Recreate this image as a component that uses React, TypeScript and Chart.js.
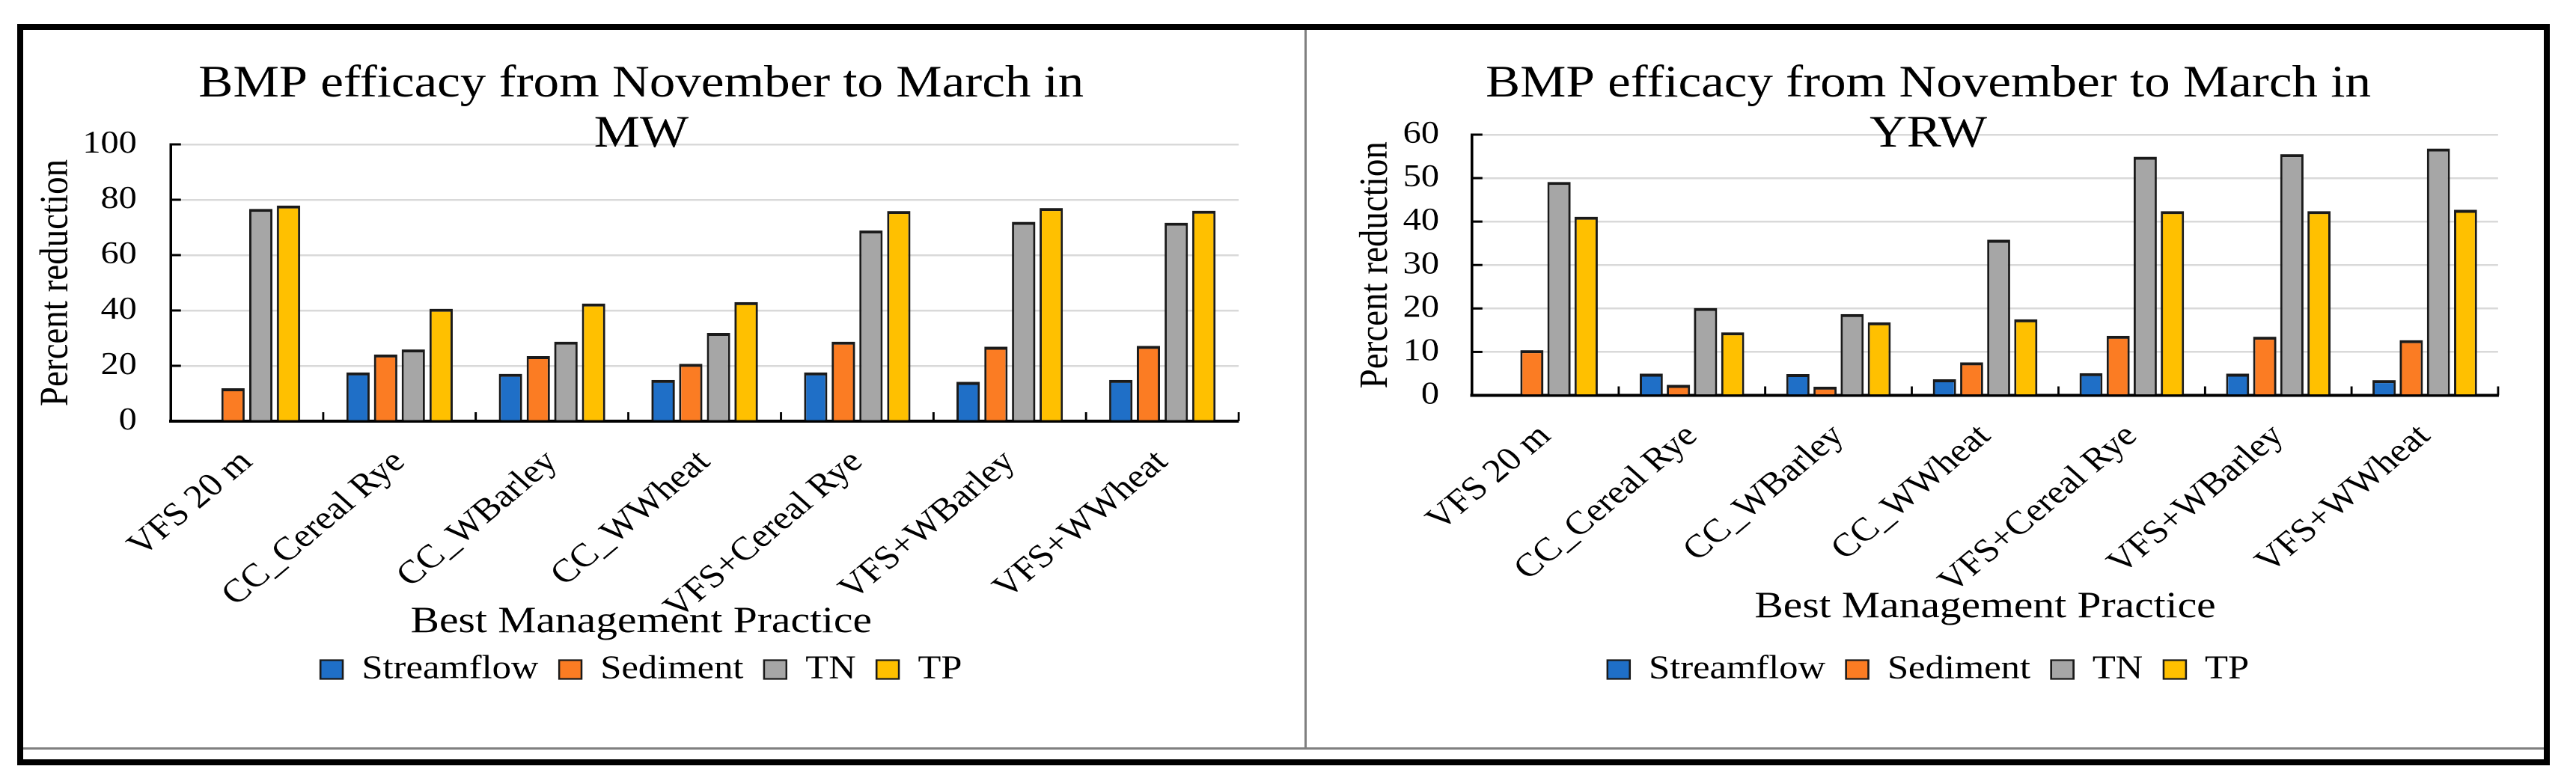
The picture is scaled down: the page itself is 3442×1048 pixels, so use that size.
import React, { useEffect, useRef } from 'react';
import { Chart, registerables } from 'chart.js';

Chart.register(...registerables);

// ---------- data ----------
const categories = ['VFS 20 m', 'CC_Cereal Rye', 'CC_WBarley', 'CC_WWheat', 'VFS+Cereal Rye', 'VFS+WBarley', 'VFS+WWheat'];
const seriesNames = ['Streamflow', 'Sediment', 'TN', 'TP'];
const seriesColors = ['#1F6FC7', '#FB7C23', '#A6A6A6', '#FFC000'];

const streamflowMW = [0.4, 17.6, 17.1, 14.9, 17.6, 14.2, 14.9];
const sedimentMW = [11.9, 24.1, 23.5, 20.7, 28.7, 26.9, 27.2];
const tnMW = [76.7, 25.9, 28.7, 31.9, 68.9, 72.0, 71.7];
const tpMW = [77.9, 40.6, 42.5, 43.0, 75.9, 77.0, 76.0];

const streamflowYRW = [0, 5.0, 4.9, 3.7, 5.1, 5.0, 3.5];
const sedimentYRW = [10.4, 2.4, 2.0, 7.6, 13.7, 13.5, 12.7];
const tnYRW = [49.1, 20.1, 18.7, 35.8, 54.9, 55.5, 56.8];
const tpYRW = [41.1, 14.5, 16.8, 17.5, 42.4, 42.4, 42.7];

const titleMW = ['BMP efficacy from November to March in', 'MW'];
const titleYRW = ['BMP efficacy from November to March in', 'YRW'];
const xAxisTitle = 'Best Management Practice';
const yAxisTitle = 'Percent reduction';

// ---------- style ----------
const FONT = "'Liberation Serif', 'Times New Roman', serif";
const STRETCH = 1.15;
const PANEL_TOP = 40;
const PANEL_H = 960;

Chart.defaults.color = '#000';

const innerTicks = {
  id: 'innerTicks',
  afterDraw(chart: any) {
    const { ctx, chartArea } = chart;
    const xs = chart.scales.x;
    const ys = chart.scales.y;
    ctx.save();
    ctx.strokeStyle = '#000';
    ctx.lineWidth = 3;
    ys.ticks.forEach((t: any) => {
      const py = ys.getPixelForValue(t.value);
      ctx.beginPath();
      ctx.moveTo(chartArea.left, py);
      ctx.lineTo(chartArea.left + 12, py);
      ctx.stroke();
    });
    ctx.lineWidth = 2.5;
    for (let i = 0; i < xs.ticks.length; i++) {
      const px = xs.getPixelForValue(i + 0.5);
      ctx.beginPath();
      ctx.moveTo(px, chartArea.bottom);
      ctx.lineTo(px, chartArea.bottom - 12);
      ctx.stroke();
    }
    ctx.restore();
  },
};

type PanelCfg = {
  left: number;
  width: number;
  title: string[];
  series: number[][];
  yMax: number;
  yStep: number;
  padLeft: number;
  padRight: number;
  titlePadBottom: number;
  yWidth: number;
  yTickPad: number;
  yTitlePad: number;
  xHeight: number;
  subtitleAxis: boolean;
  catPct: number;
  barPct: number;
};

function Panel({ cfg }: { cfg: PanelCfg }) {
  const ref = useRef<HTMLCanvasElement>(null);
  useEffect(() => {
    const chart = new Chart(ref.current as HTMLCanvasElement, {
      type: 'bar',
      data: {
        labels: categories,
        datasets: cfg.series.map((vals, i) => ({
          label: seriesNames[i],
          data: vals,
          backgroundColor: seriesColors[i],
          borderColor: '#1a1a1a',
          borderWidth: { top: 4, left: 2.5, right: 2.5, bottom: 0 },
          borderSkipped: 'start',
          categoryPercentage: cfg.catPct,
          barPercentage: cfg.barPct,
        })),
      },
      options: {
        animation: false,
        responsive: true,
        maintainAspectRatio: false,
        devicePixelRatio: 2,
        layout: { padding: { left: cfg.padLeft, right: cfg.padRight, top: 0, bottom: 73 } },
        plugins: {
          title: {
            display: true,
            text: cfg.title,
            color: '#000',
            font: { family: FONT, size: 60, weight: 'normal', lineHeight: 1.12 },
            padding: { top: 39.4, bottom: cfg.titlePadBottom },
          },
          subtitle: {
            display: cfg.subtitleAxis,
            text: xAxisTitle,
            position: 'bottom',
            weight: 500,
            color: '#000',
            font: { family: FONT, size: 50, weight: 'normal', lineHeight: 1.2 },
            padding: { top: -47, bottom: -13 },
          } as any,
          legend: {
            position: 'bottom',
            labels: {
              color: '#000',
              font: { family: FONT, size: 44 },
              boxWidth: 26,
              boxHeight: 25,
              padding: 24,
            },
          },
          tooltip: { enabled: false },
        },
        scales: {
          x: {
            z: 1,
            grid: { display: false, drawTicks: false },
            border: { display: true, color: '#000', width: 4 },
            ticks: {
              autoSkip: false,
              minRotation: 44,
              maxRotation: 44,
              padding: 29,
              color: '#000',
              font: { family: FONT, size: 44 },
            },
            title: {
              display: !cfg.subtitleAxis,
              text: xAxisTitle,
              color: '#000',
              font: { family: FONT, size: 50, lineHeight: 1.2 },
              padding: { top: 0, bottom: 7 },
            },
            afterFit: (s: any) => {
              s.height = cfg.xHeight;
            },
          },
          y: {
            min: 0,
            max: cfg.yMax,
            ticks: {
              stepSize: cfg.yStep,
              padding: cfg.yTickPad,
              color: '#000',
              font: { family: FONT, size: 42 },
            },
            grid: { color: '#D9D9D9', lineWidth: 2.5, drawTicks: false },
            border: { display: true, color: '#000', width: 3 },
            title: {
              display: true,
              text: yAxisTitle,
              color: '#000',
              font: { family: FONT, size: 47, lineHeight: 1.2 },
              padding: { top: cfg.yTitlePad, bottom: 0 },
            },
            afterFit: (s: any) => {
              s.width = cfg.yWidth;
            },
          },
        },
      },
      plugins: [innerTicks],
    } as any);
    return () => chart.destroy();
  }, []);
  return (
    <div
      style={{
        position: 'absolute',
        left: cfg.left,
        top: PANEL_TOP,
        width: cfg.width,
        height: PANEL_H,
        transform: `scaleX(${STRETCH})`,
        transformOrigin: '0 0',
      }}
    >
      <canvas ref={ref} />
    </div>
  );
}

const leftCfg: PanelCfg = {
  left: 31,
  width: 1489,
  title: titleMW,
  series: [streamflowMW, sedimentMW, tnMW, tpMW],
  yMax: 100,
  yStep: 20,
  padLeft: 24,
  padRight: 76.8,
  titlePadBottom: -20.8,
  yWidth: 147.3,
  yTickPad: 39.3,
  yTitlePad: -13.5,
  xHeight: 286,
  subtitleAxis: true,
  catPct: 0.726,
  barPct: 0.84,
};

const rightCfg: PanelCfg = {
  left: 1746,
  width: 1437,
  title: titleYRW,
  series: [streamflowYRW, sedimentYRW, tnYRW, tpYRW],
  yMax: 60,
  yStep: 10,
  padLeft: 60,
  padRight: 52.7,
  titlePadBottom: -33.8,
  yWidth: 132.2,
  yTickPad: 38.3,
  yTitlePad: -7.7,
  xHeight: 320.5,
  subtitleAxis: false,
  catPct: 0.74,
  barPct: 0.85,
};

export default function App() {
  return (
    <div style={{ position: 'absolute', left: 0, top: 0, width: 3442, height: 1048, background: '#fff', overflow: 'hidden' }}>
      <div
        style={{
          position: 'absolute',
          left: 23,
          top: 32,
          width: 3384,
          height: 991,
          border: '8px solid #000',
          boxSizing: 'border-box',
        }}
      />
      <div style={{ position: 'absolute', left: 1743, top: 40, width: 3, height: 962, background: '#808080' }} />
      <div style={{ position: 'absolute', left: 31, top: 999, width: 3368, height: 3, background: '#808080' }} />
      <Panel cfg={leftCfg} />
      <Panel cfg={rightCfg} />
    </div>
  );
}
